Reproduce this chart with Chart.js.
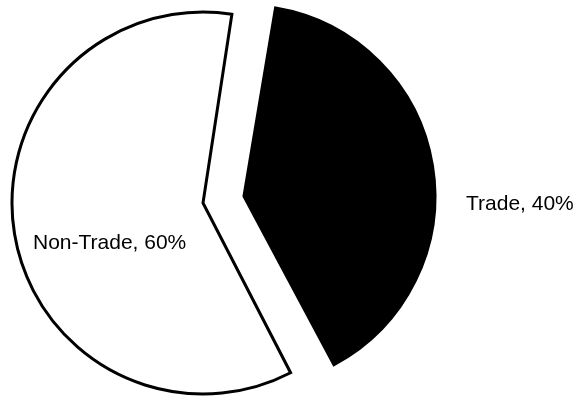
<!DOCTYPE html>
<html>
<head>
<meta charset="utf-8">
<script src="https://cdn.jsdelivr.net/npm/chart.js@4/dist/chart.umd.min.js"></script>
<style>
  html, body { margin: 0; padding: 0; background: #fff; }
  #wrap { width: 585px; height: 396px; }
</style>
</head>
<body>
<div id="wrap"><canvas id="pie"></canvas></div>
<script>
// Répartition Trade / Non-Trade
const categories = ['Trade', 'Non-Trade'];
const parts = [40, 60];
const couleurs = ['#000000', '#ffffff'];
// Chart.js v4 déplace l'arc de offset / 4 pixels
const decalages = [166, 0];

//---------------------------------------------------------------------
// Part détachée : Chart.js agrandit aussi son rayon, on le remet
// au même rayon que l'autre part
//---------------------------------------------------------------------
const memeRayon = {
    id: 'memeRayon',
    afterUpdate(chart) {
        chart.getDatasetMeta(0).data.forEach((arc, i) => {
            const o = (decalages[i] || 0) / 4;
            const fix = 1 - Math.sin(Math.min(Math.PI, arc.circumference));
            arc.outerRadius -= o * fix;
        });
    }
};

//---------------------------------------------------------------------
// Étiquettes "Nom, xx%" placées à côté de chaque part
//---------------------------------------------------------------------
const etiquettesPie = {
    id: 'etiquettesPie',
    afterDatasetsDraw(chart) {
        const ctx = chart.ctx;
        const arcs = chart.getDatasetMeta(0).data;
        // position relative au centre du camembert
        const places = [
            { dx: 263, dy: 1, align: 'left' },
            { dx: -170, dy: 40, align: 'left' }
        ];
        ctx.save();
        ctx.font = '21px "Liberation Sans", Arial, sans-serif';
        ctx.fillStyle = '#000';
        ctx.textBaseline = 'middle';
        arcs.forEach((arc, i) => {
            const p = places[i];
            ctx.textAlign = p.align;
            ctx.fillText(categories[i] + ', ' + parts[i] + '%', arc.x + p.dx, arc.y + p.dy);
        });
        ctx.restore();
    }
};

new Chart(document.getElementById('pie'), {
    type: 'pie',
    data: {
        labels: categories,
        datasets: [{
            data: parts,
            backgroundColor: couleurs,
            borderColor: '#000',
            borderWidth: 3,
            borderJoinStyle: 'miter',
            offset: decalages
        }]
    },
    options: {
        responsive: true,
        maintainAspectRatio: false,
        animation: false,
        rotation: 8.7,
        radius: 191,
        layout: { padding: { left: 0, right: 179, top: 10, bottom: 0 } },
        plugins: {
            legend: { display: false },
            tooltip: { enabled: false }
        }
    },
    plugins: [memeRayon, etiquettesPie]
});
</script>
</body>
</html>
